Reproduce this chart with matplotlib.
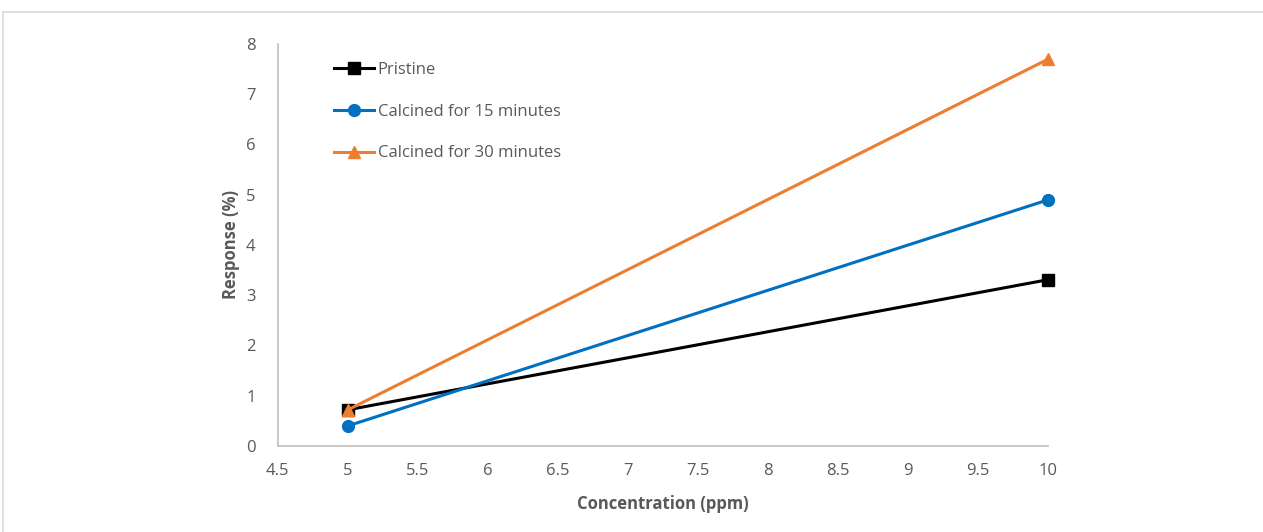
import matplotlib.pyplot as plt
from matplotlib.patches import Rectangle

plt.rcParams['font.family'] = ['Open Sans', 'DejaVu Sans']

# Концентрація та відгук сенсора
conc = [5, 10]
pristine = [0.72, 3.31]
calc15 = [0.40, 4.90]
calc30 = [0.72, 7.70]

labels = ['Pristine', 'Calcined for 15 minutes', 'Calcined for 30 minutes']
xticks = [4.5, 5, 5.5, 6, 6.5, 7, 7.5, 8, 8.5, 9, 9.5, 10]

grey = '#595959'

fig = plt.figure(figsize=(12.63, 5.32), dpi=100)
ax = fig.add_axes([0.220, 0.1617, 0.610, 0.7556])

# рамка навколо області діаграми
fig.patches.append(Rectangle((3 / 1263, -0.05), 1.1, 1 - 12 / 532 + 0.05,
                             transform=fig.transFigure, fill=False,
                             edgecolor='#d9d9d9', linewidth=1.2))

ax.plot(conc, pristine, color='black', marker='s', markersize=8, linewidth=2.2,
        label=labels[0], clip_on=False)
ax.plot(conc, calc15, color='#0070C0', marker='o', markersize=8.5, linewidth=2.2,
        label=labels[1], clip_on=False)
ax.plot(conc, calc30, color='#ED7D31', marker='^', markersize=9, linewidth=2.2,
        label=labels[2], clip_on=False)

ax.set_xlim(4.5, 10)
ax.set_ylim(0, 8)
ax.set_xticks(xticks)
ax.set_xticklabels([f'{t:g}' for t in xticks])
ax.set_yticks(range(0, 9))

for s in ['top', 'right']:
    ax.spines[s].set_visible(False)
for s in ['left', 'bottom']:
    ax.spines[s].set_color('#bfbfbf')
    ax.spines[s].set_linewidth(1.2)
ax.tick_params(length=0, labelsize=12, colors=grey)
ax.tick_params(axis='x', pad=12)
ax.tick_params(axis='y', pad=16)

ax.set_xlabel('Concentration (ppm)', fontsize=12, fontweight='bold', color=grey, labelpad=12)
ax.set_ylabel('Response (%)', fontsize=12, fontweight='bold', color=grey, labelpad=4)

ax.legend(loc='upper left', bbox_to_anchor=(0.058, 0.985), frameon=False, fontsize=12,
          labelcolor=grey, handlelength=2.4, handletextpad=0.2, labelspacing=1.55,
          borderaxespad=0.3)

fig.savefig('out.png', dpi=100)
